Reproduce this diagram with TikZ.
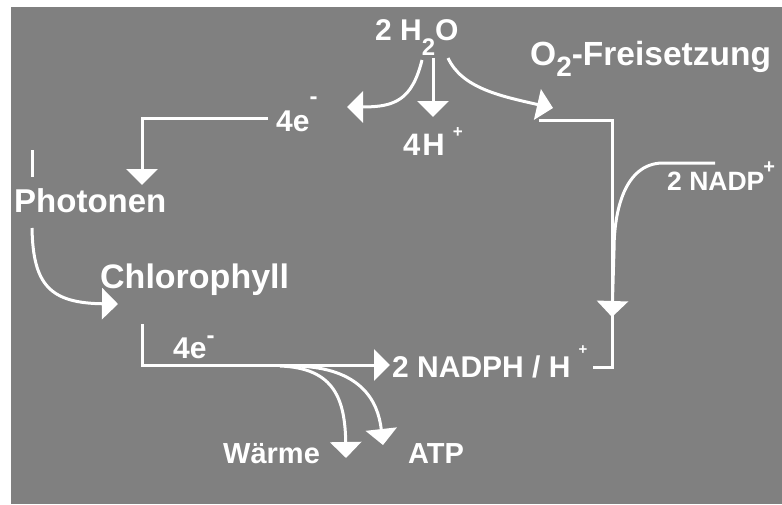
\documentclass[tikz,border=0pt]{standalone}
\usepackage{fontspec}
\setmainfont{Liberation Sans}
\usetikzlibrary{arrows.meta}
\newcommand\myfs[1]{\fontsize{#1}{#1}\selectfont}
\definecolor{bggray}{RGB}{128,128,128}
\begin{document}
\begin{tikzpicture}[x=1pt,y=-1pt,
  ln/.style={draw=white,line width=3pt},
  arr/.style={ln,-{Triangle[length=16pt,width=31pt]}},
  lbl/.style={text=white,inner sep=0pt,anchor=base west}]
\useasboundingbox (0,0) rectangle (782,504);
\fill[white] (0,0) rectangle (782,504);
\fill[bggray] (11,7) rectangle (782,504);
% labels
\node[lbl,font=\bfseries\myfs{30}] (h2o) at (375,40) {2 H\raisebox{-15pt}{\myfs{24}2}O};
\node[lbl,font=\bfseries\myfs{33.5}] (o2) at (530,65) {O\raisebox{-11pt}{\myfs{28}2}-Freisetzung};
\node[lbl,font=\bfseries\myfs{31}] (fourH) at (403,155) {4\kern2pt H\kern8pt\raisebox{18pt}{\myfs{17}+}};
\node[lbl,font=\bfseries\myfs{30}] (e1) at (276,131) {4e\raisebox{27pt}{\myfs{24}-}};
\node[lbl,font=\bfseries\myfs{30}] (e2) at (173,358) {4e\raisebox{15pt}{\myfs{24}-}};
\node[lbl,font=\bfseries\myfs{33}] (phot) at (14,212) {Photonen};
\node[lbl,font=\bfseries\myfs{34}] (chl) at (100,288) {Chlorophyll};
\node[lbl,font=\bfseries\myfs{26.5}] (nadp) at (667,190) {2 NADP\kern-1pt\raisebox{17pt}{\myfs{20}+}};
\node[lbl,font=\bfseries\myfs{30}] (nadph) at (392,377) {2 NADPH / H\kern8pt\raisebox{23pt}{\myfs{15}+}};
\node[lbl,font=\bfseries\myfs{29}] (waerme) at (223,463) {Wärme};
\node[lbl,font=\bfseries\myfs{29}] (atp) at (408,463) {ATP};
% connector points
\coordinate (wL) at (422,60); \coordinate (wLt) at (347,107);
\coordinate (wD) at (433,58); \coordinate (wDt) at (433,117);
\coordinate (wR) at (448,58); \coordinate (wRt) at (553,108);
\coordinate (oa) at (539,120); \coordinate (ob) at (612,120);
\coordinate (oc) at (612,367); \coordinate (od) at (593,367);
\coordinate (na) at (715,163); \coordinate (nb) at (662,163);
\coordinate (nc) at (614,250); \coordinate (nt) at (612,317);
\coordinate (ea) at (268,118); \coordinate (eb) at (142,118); \coordinate (et) at (142,185);
\coordinate (ia) at (32,150); \coordinate (ib) at (32,177);
\coordinate (pa) at (32,228); \coordinate (pt) at (118,304);
\coordinate (ca) at (142,324); \coordinate (cb) at (142,365); \coordinate (ct) at (390,365);
\coordinate (wa) at (280,366); \coordinate (wt) at (346,458);
\coordinate (aa) at (297,366); \coordinate (atpT) at (383,445);
% connectors
\draw[arr] (wL) .. controls (412,100) and (395,107) .. (wLt);
\draw[arr] (wD) -- (wDt);
\draw[arr] (wR) .. controls (462,88) and (500,96) .. (wRt);
\draw[ln] (oa) -- (ob) -- (oc) -- (od);
\draw[arr] (na) -- (nb) .. controls (625,164) and (614,210) .. (nc) -- (nt);
\draw[arr] (ea) -- (eb) -- (et);
\draw[ln] (ia) -- (ib);
\draw[arr] (pa) .. controls (33,285) and (50,303) .. (pt);
\draw[arr] (ca) -- (cb) -- (ct);
\draw[arr] (wa) .. controls (335,368) and (345,400) .. (wt);
\draw[arr] (aa) .. controls (360,368) and (378,400) .. (atpT);
\end{tikzpicture}
\end{document}
